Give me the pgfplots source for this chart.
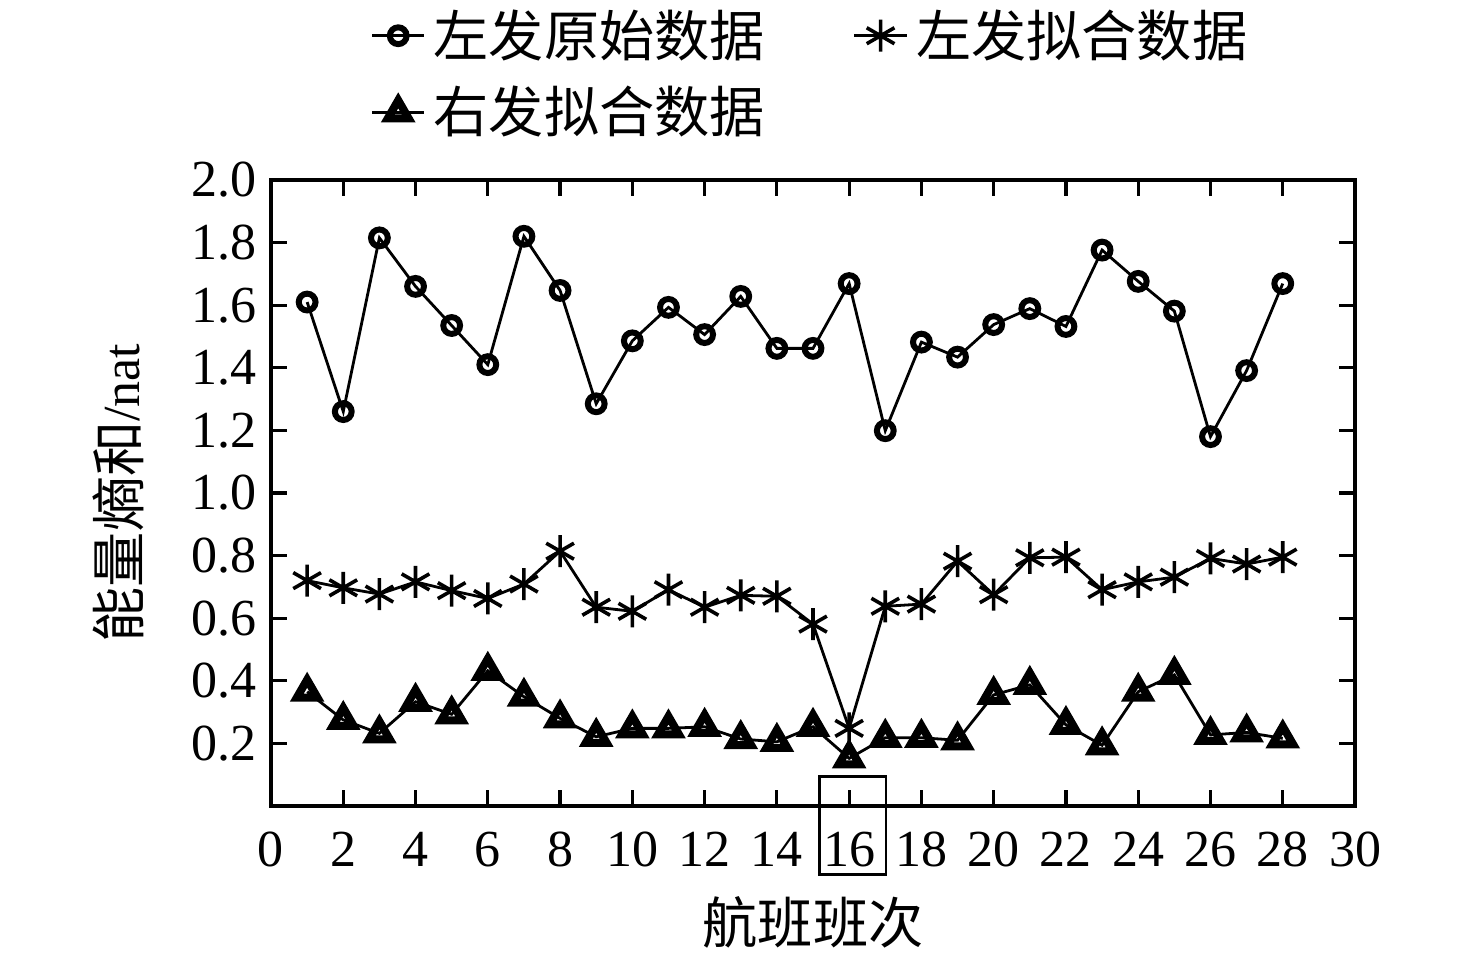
\documentclass[border=0pt]{standalone}
\usepackage{pgfplots}
\pgfplotsset{compat=1.18}
\usepackage{fontspec}
\setmainfont{Liberation Serif}
\newfontfamily\cjk{Noto Sans CJK SC}
\pgfplotstableread{
x a b c
1 1.61 0.720 0.365
2 1.26 0.697 0.275
3 1.815 0.677 0.232
4 1.66 0.716 0.333
5 1.535 0.688 0.293
6 1.41 0.663 0.432
7 1.82 0.709 0.349
8 1.647 0.814 0.280
9 1.285 0.635 0.221
10 1.486 0.622 0.248
11 1.593 0.691 0.248
12 1.506 0.635 0.253
13 1.628 0.673 0.214
14 1.462 0.670 0.205
15 1.462 0.581 0.253
16 1.669 0.248 0.152
17 1.199 0.638 0.218
18 1.482 0.645 0.218
19 1.434 0.782 0.210
20 1.538 0.675 0.355
21 1.589 0.793 0.387
22 1.532 0.795 0.259
23 1.776 0.691 0.194
24 1.676 0.716 0.365
25 1.581 0.731 0.419
26 1.180 0.791 0.227
27 1.391 0.773 0.235
28 1.669 0.795 0.216
}\data
\begin{document}
\begin{tikzpicture}[font=\fontsize{13}{15}\selectfont]
\begin{axis}[
  scale only axis,
  width=271pt, height=156.5pt,
  xmin=0, xmax=30, ymin=0, ymax=2.0,
  xtick={0,2,...,30},
  ytick={0.2,0.4,...,2.0},
  yticklabel style={/pgf/number format/.cd,fixed,fixed zerofill,precision=1},
  xticklabel style={yshift=-3pt},
  /pgf/number format/assume math mode=true,
  tick align=inside,
  major tick length=4pt,
  tick style={line width=0.8pt, black},
  axis line style={line width=0.9pt},
  xlabel={\cjk\fontsize{13.8}{15}\selectfont 航班班次},
  ylabel={{\cjk\fontsize{13.8}{15}\selectfont 能量熵和}/nat},
  xlabel style={yshift=-0.5pt},
  ylabel style={yshift=5pt},
  clip=false,
  legend columns=2,
  legend style={draw=none, fill=none, inner sep=0pt, at={(0.5,1.052)}, anchor=south,
    font=\cjk\fontsize{13.8}{15}\selectfont,
    /tikz/every even column/.append style={column sep=20pt},
    row sep=2pt},
  legend cell align=left,
  legend image code/.code={\draw[mark repeat=2,mark phase=2] plot coordinates {(0cm,0cm)(0.23cm,0cm)(0.46cm,0cm)};},
]
\addplot[black, line width=0.7pt, mark=o, mark size=2.1pt, mark options={line width=1.5pt}] table[x=x,y=a]{\data};
\addlegendentry{左发原始数据}
\addplot[black, line width=0.7pt, mark=asterisk, mark size=4pt, mark options={line width=0.9pt}] table[x=x,y=b]{\data};
\addlegendentry{左发拟合数据}
\addplot[black, line width=0.7pt, mark=triangle, mark size=3pt, mark options={line width=2pt}] table[x=x,y=c]{\data};
\addlegendentry{右发拟合数据}
\draw[line width=0.7pt] (axis cs:15.19,0.093) rectangle (axis cs:17.02,-0.218);
\path (rel axis cs:-0.25,-0.2508) rectangle (rel axis cs:1.1116,1.2875);
\end{axis}
\end{tikzpicture}
\end{document}
